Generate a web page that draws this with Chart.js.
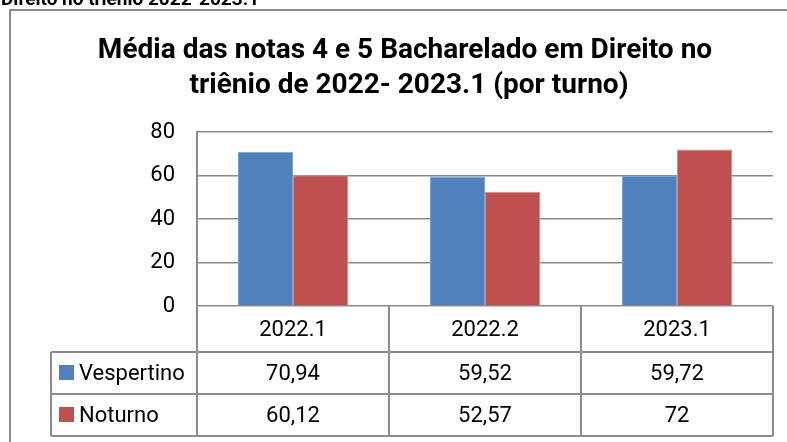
<!DOCTYPE html>
<html>
<head>
<meta charset="utf-8">
<script src="https://cdn.jsdelivr.net/npm/chart.js@4/dist/chart.umd.min.js"></script>
<style>
  body { margin: 0; background: #fff; }
  canvas { display: block; }
</style>
</head>
<body>
<canvas id="notasChart" width="787" height="442"></canvas>
<script>
  // Chart data
  const periodos = ['2022.1', '2022.2', '2023.1'];
  const vespertino = [70.94, 59.52, 59.72];
  const noturno = [60.12, 52.57, 72];
  const seriesNames = ['Vespertino', 'Noturno'];
  const yTicks = [0, 20, 40, 60, 80];
  const titleLines = ['Média das notas 4 e 5 Bacharelado em Direito no', 'triênio de 2022- 2023.1 (por turno)'];
  const topCaption = 'Direito no triênio 2022-2023.1';

  const blue = '#4F81BD';
  const red = '#C0504D';
  const lineGrey = '#8c8c8c';
  const fontFam = '"Liberation Sans Narrow", "Arial Narrow", Roboto, sans-serif';

  // format numbers like the source (comma decimal)
  function fmt(v) {
    return String(v).replace('.', ',');
  }

  // Draws the outer frame, title and the data table under the plot
  const tablePlugin = {
    id: 'dataTable',
    afterDraw(chart) {
      const ctx = chart.ctx;
      const area = chart.chartArea;
      const xScale = chart.scales.x;
      const rowH = [46, 42, 42];
      const legendLeft = 51;

      ctx.save();

      // cut-off caption at very top
      ctx.fillStyle = '#000';
      ctx.font = 'bold 19px ' + fontFam;
      ctx.textAlign = 'left';
      ctx.textBaseline = 'alphabetic';
      ctx.fillText(topCaption, 1, 5);

      // outer frame
      ctx.strokeStyle = lineGrey;
      ctx.lineWidth = 2;
      ctx.beginPath();
      ctx.moveTo(10, 450);
      ctx.lineTo(10, 10);
      ctx.lineTo(800, 10);
      ctx.stroke();

      // title
      ctx.font = 'bold 28px ' + fontFam;
      ctx.textAlign = 'center';
      ctx.textBaseline = 'middle';
      ctx.fillText(titleLines[0], 405, 51);
      ctx.fillText(titleLines[1], 409, 86);

      // column boundaries from the x scale
      const half = (xScale.getPixelForValue(1) - xScale.getPixelForValue(0)) / 2;
      const bounds = periodos.map((p, i) => xScale.getPixelForValue(i) - half);
      bounds.push(xScale.getPixelForValue(periodos.length - 1) + half);

      const y0 = area.bottom;
      const y1 = y0 + rowH[0];
      const y2 = y1 + rowH[1];
      const y3 = y2 + rowH[2];

      ctx.strokeStyle = lineGrey;
      ctx.lineWidth = 2;
      ctx.beginPath();
      bounds.forEach(b => {
        ctx.moveTo(b, y0);
        ctx.lineTo(b, y3);
      });
      [y1, y2, y3].forEach(y => {
        ctx.moveTo(legendLeft, y);
        ctx.lineTo(bounds[bounds.length - 1], y);
      });
      ctx.moveTo(legendLeft, y1);
      ctx.lineTo(legendLeft, y3);
      ctx.stroke();

      // cell text
      ctx.fillStyle = '#000';
      ctx.font = '22px ' + fontFam;
      ctx.textAlign = 'center';
      ctx.textBaseline = 'middle';
      periodos.forEach((p, i) => {
        const cx = xScale.getPixelForValue(i);
        ctx.fillText(p, cx, (y0 + y1) / 2 + 1);
        ctx.fillText(fmt(vespertino[i]), cx, (y1 + y2) / 2 + 1);
        ctx.fillText(fmt(noturno[i]), cx, (y2 + y3) / 2 + 1);
      });

      // legend keys
      const keyColors = [blue, red];
      const rows = [[y1, y2], [y2, y3]];
      ctx.textAlign = 'left';
      seriesNames.forEach((name, i) => {
        const cy = (rows[i][0] + rows[i][1]) / 2;
        ctx.fillStyle = keyColors[i];
        ctx.fillRect(59, cy - 8, 15, 15);
        ctx.fillStyle = '#000';
        ctx.fillText(name, 79, cy + 1);
      });

      ctx.restore();
    }
  };

  const ctx = document.getElementById('notasChart').getContext('2d');

  new Chart(ctx, {
    type: 'bar',
    data: {
      labels: periodos,
      datasets: [
        {
          label: seriesNames[0],
          data: vespertino,
          backgroundColor: blue,
          borderColor: '#7fa3d1',
          borderWidth: 1,
          categoryPercentage: 0.573,
          barPercentage: 1
        },
        {
          label: seriesNames[1],
          data: noturno,
          backgroundColor: red,
          borderColor: '#d98a88',
          borderWidth: 1,
          categoryPercentage: 0.573,
          barPercentage: 1
        }
      ]
    },
    options: {
      responsive: false,
      animation: false,
      layout: {
        padding: { top: 132, bottom: 136, left: 10, right: 14 }
      },
      plugins: {
        legend: { display: false },
        title: { display: false },
        tooltip: { enabled: false }
      },
      scales: {
        x: {
          display: false
        },
        y: {
          min: 0,
          max: 80,
          afterBuildTicks(scale) {
            scale.ticks = yTicks.map(v => ({ value: v }));
          },
          afterFit(scale) {
            scale.width = 187;
          },
          ticks: {
            color: '#000',
            padding: 22,
            font: { family: fontFam, size: 22 }
          },
          grid: {
            color: lineGrey,
            lineWidth: 1.5,
            drawTicks: false
          },
          border: {
            color: lineGrey,
            width: 2
          }
        }
      }
    },
    plugins: [tablePlugin]
  });
</script>
</body>
</html>
